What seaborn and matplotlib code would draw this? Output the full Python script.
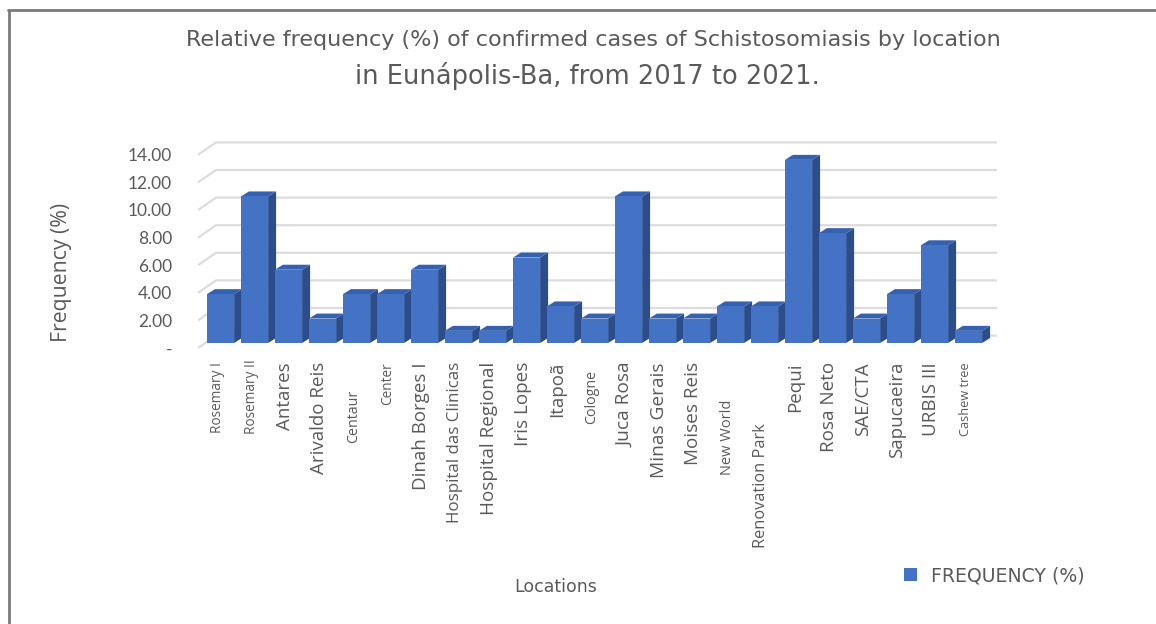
import matplotlib
matplotlib.use("Agg")
import matplotlib.pyplot as plt
import seaborn as sns
from matplotlib.patches import Polygon, Patch
from matplotlib.transforms import ScaledTranslation

# Confirmed Schistosomiasis cases by location, Eunápolis-BA, 2017-2021 (relative frequency, %)
locations = [
    "Rosemary I", "Rosemary II", "Antares", "Arivaldo Reis", "Centaur", "Center",
    "Dinah Borges I", "Hospital das Clinicas", "Hospital Regional", "Iris Lopes",
    "Itapoã", "Cologne", "Juca Rosa", "Minas Gerais", "Moises Reis", "New World",
    "Renovation Park", "Pequi", "Rosa Neto", "SAE/CTA", "Sapucaeira", "URBIS III",
    "Cashew tree",
]
frequency = [
    3.54, 10.62, 5.31, 1.77, 3.54, 3.54, 5.31, 0.88, 0.88, 6.19, 2.65, 1.77,
    10.62, 1.77, 1.77, 2.65, 2.65, 13.27, 7.96, 1.77, 3.54, 7.08, 0.88,
]
y_ticks = [0, 2, 4, 6, 8, 10, 12, 14]
y_tick_labels = ["-", "2.00", "4.00", "6.00", "8.00", "10.00", "12.00", "14.00"]

# per-label typography of the category axis
label_sizes = [9.8, 9.8, 13.5, 13.5, 10.3, 9.8, 13.5, 12.2, 13.6, 13.6, 13.5, 10.3, 13.8, 13.8, 13.6,
               10.5, 11.8, 13.5, 13.6, 13.5, 13.5, 13.5, 9.2]
label_drops = [0, -3, 0, 0, 28, 0, 0, 0, 0, 0, 0, 8, 0, 0, 0, 38, 61, 0, 0, 0, 0, 0, 0]

FRONT = "#4472C4"
SIDE = "#2C4D8C"
TOP = "#3661AE"
TEXT = "#5a5a5a"
GRID = "#dcdcdc"

W, H, DPI = 1156, 624, 100
sns.set_theme(style="white")
plt.rcParams["font.family"] = ["DejaVu Sans"]

fig = plt.figure(figsize=(W / DPI, H / DPI), dpi=DPI)
fig.patch.set_facecolor("white")

# plot area in pixels (front plane of the bars)
px_left, px_right, px_top, px_bottom = 190, 1000, 130, 360
ax = fig.add_axes([px_left / W, 1 - px_bottom / H,
                   (px_right - px_left) / W, (px_bottom - px_top) / H])

bar_width = 0.8
sns.barplot(x=locations, y=frequency, color=FRONT, width=bar_width,
            saturation=1, ax=ax, zorder=3, linewidth=0)

# axis scales: 34 px per category, 13.8 px per percentage point
cat_px = 34.0
val_px = 13.8
x0 = (px_left - 220.5) / cat_px
x1 = (px_right - 220.5) / cat_px
ax.set_xlim(x0, x1)
ax.set_ylim((343 - px_bottom) / val_px, (343 - px_top) / val_px)

# depth of each bar (side + top faces)
dx = 8 / cat_px
dy = 5 / val_px
for p in ax.patches:
    bx, bw, bh = p.get_x(), p.get_width(), p.get_height()
    side = Polygon([(bx + bw, 0), (bx + bw, bh), (bx + bw + dx, bh + dy), (bx + bw + dx, dy)],
                   closed=True, facecolor=SIDE, edgecolor="none", zorder=2.5)
    top = Polygon([(bx, bh), (bx + bw, bh), (bx + bw + dx, bh + dy), (bx + dx, bh + dy)],
                  closed=True, facecolor=TOP, edgecolor="none", zorder=2.6)
    ax.add_patch(side)
    ax.add_patch(top)

# back-wall gridlines with slanted left returns
g_front_x = (198 - 220.5) / cat_px
g_back_x = (216 - 220.5) / cat_px
g_end_x = (997 - 220.5) / cat_px
for v in y_ticks:
    yf = v - 5 / val_px
    yb = v + 7.4 / val_px
    ax.plot([g_front_x, g_back_x, g_end_x], [yf, yb, yb], color=GRID, lw=1.6,
            zorder=1, solid_capstyle="butt", clip_on=False)

for s in ax.spines.values():
    s.set_visible(False)
ax.set_facecolor("none")
ax.grid(False)

# value axis
ax.set_yticks(y_ticks)
ax.set_yticklabels(y_tick_labels)
ax.tick_params(axis="y", length=0, pad=13, labelsize=12.5, labelcolor=TEXT)
for lbl in ax.get_yticklabels():
    lbl.set_family(["Lato", "DejaVu Sans"])
    lbl.set_transform(lbl.get_transform() + ScaledTranslation(0, -5 / DPI, fig.dpi_scale_trans))

# category axis
ax.set_xticks(range(len(locations)))
ax.set_xticklabels(locations, rotation=90, ha="center", va="top")
ax.tick_params(axis="x", length=0, pad=1.5, labelcolor=TEXT)
for lbl, size, drop in zip(ax.get_xticklabels(), label_sizes, label_drops):
    lbl.set_fontsize(size)
    lbl.set_family(["Open Sans", "DejaVu Sans"])
    lbl.set_transform(lbl.get_transform() + ScaledTranslation(-3 / DPI, -drop / DPI, fig.dpi_scale_trans))
ax.set_xlabel("")
ax.set_ylabel("")

# titles and axis names
fig.text(593 / W, 1 - 40 / H,
         "Relative frequency (%) of confirmed cases of Schistosomiasis by location",
         ha="center", va="center", fontsize=16, color=TEXT)
fig.text(587 / W, 1 - 76 / H, "in Eunápolis-Ba, from 2017 to 2021.",
         ha="center", va="center", fontsize=18.5, color=TEXT)
fig.text(62 / W, 1 - 272 / H, "Frequency (%)", rotation=90, ha="center", va="center",
         fontsize=15.3, color=TEXT, family=["Open Sans", "DejaVu Sans"])
fig.text(556 / W, 1 - 587 / H, "Locations", ha="center", va="center",
         fontsize=12.5, color=TEXT)

# legend
fig.legend(handles=[Patch(facecolor=FRONT, edgecolor="none", label="FREQUENCY (%)")],
           loc="center left", bbox_to_anchor=(887 / W, 1 - 576 / H), frameon=False,
           handlelength=0.68, handleheight=0.68, handletextpad=0.75,
           prop={"size": 13.6}, labelcolor=TEXT)

# frame lines along the top and left edges
fig.add_artist(plt.Line2D([8 / W, 1], [1 - 10 / H, 1 - 10 / H], transform=fig.transFigure,
                          color="#7a7a7a", lw=2))
fig.add_artist(plt.Line2D([9 / W, 9 / W], [0, 1 - 10 / H], transform=fig.transFigure,
                          color="#7a7a7a", lw=2))

fig.savefig("out.png", dpi=DPI, facecolor="white")
